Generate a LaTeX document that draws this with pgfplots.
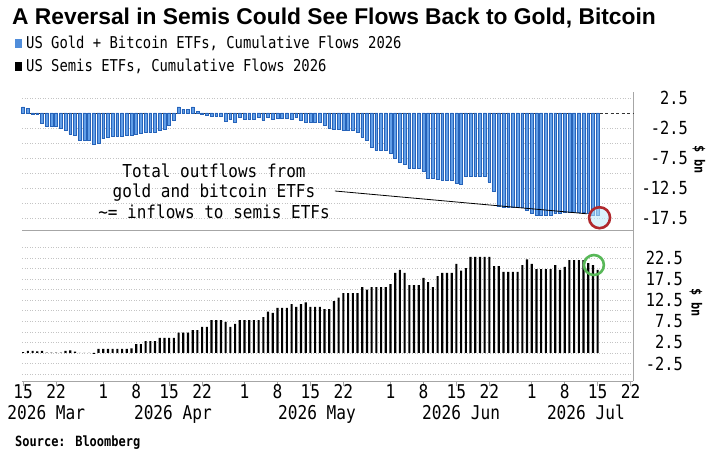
\documentclass[border=0pt]{standalone}
\usepackage{pgfplots}
\pgfplotsset{compat=1.18}
\usepackage{pgfplotstable}
\usepackage{fontspec}
\setmainfont{DejaVu Sans Mono}
\newfontfamily\bbmono[FakeStretch=0.85]{DejaVu Sans Mono}
\newfontfamily\annf[FakeStretch=0.9]{DejaVu Sans Mono}
\newfontfamily\titlef{Liberation Sans}
\definecolor{gbfill}{HTML}{629FE8}
\definecolor{gbedge}{HTML}{2663B9}
\definecolor{gridc}{HTML}{C4C4C4}
\definecolor{axc}{HTML}{A6A6A6}
\definecolor{ringred}{HTML}{B0282D}
\definecolor{ringgreen}{HTML}{58B858}
\newcommand\ticky{\bbmono\fontsize{18}{20}\selectfont}
\newcommand\tickx{\bbmono\fontsize{19}{21}\selectfont}

% US Gold + Bitcoin ETFs, cumulative flows ($ bn), day 0 = 15 Mar 2026
\pgfplotstableread{
d v
0 1.0
1 0.7
2 -0.2
3 -0.3
4 -1.8
5 -2.3
6 -2.3
7 -2.3
8 -2.6
9 -2.9
10 -3.5
11 -3.8
12 -4.5
13 -4.5
14 -4.5
15 -5.2
16 -5.0
17 -4.3
18 -4.1
19 -3.9
20 -3.9
21 -3.9
22 -3.7
23 -3.8
24 -3.5
25 -3.4
26 -3.3
27 -3.3
28 -3.3
29 -2.9
30 -2.7
31 -2.0
32 -1.2
33 1.0
34 0.6
35 0.6
36 1.0
37 0.3
38 -0.3
39 -0.4
40 -0.5
41 -0.5
42 -0.5
43 -1.4
44 -1.0
45 -1.6
46 -0.8
47 -1.1
48 -1.1
49 -1.1
50 -0.7
51 -1.2
52 -0.8
53 -1.0
54 -0.9
55 -0.9
56 -0.9
57 -1.0
58 -0.8
59 -1.3
60 -1.5
61 -1.5
62 -1.5
63 -1.5
64 -2.0
65 -2.6
66 -2.8
67 -2.8
68 -2.9
69 -2.9
70 -2.9
71 -3.3
72 -4.0
73 -4.5
74 -5.8
75 -6.2
76 -6.2
77 -6.2
78 -6.8
79 -7.6
80 -8.2
81 -8.6
82 -9.2
83 -9.2
84 -9.2
85 -9.8
86 -10.9
87 -10.9
88 -11.0
89 -11.2
90 -11.2
91 -11.2
92 -11.8
93 -11.9
94 -10.6
95 -10.6
96 -10.6
97 -10.6
98 -10.6
99 -11.5
100 -13.0
101 -15.5
102 -15.8
103 -15.8
104 -15.8
105 -15.8
106 -15.8
107 -16.3
108 -16.7
109 -17.0
110 -17.0
111 -17.0
112 -17.0
113 -16.8
114 -16.7
115 -16.6
116 -16.6
117 -16.6
118 -16.6
119 -16.6
120 -16.8
121 -17.0
122 -17.0
}\goldtab

% US Semis ETFs, cumulative flows ($ bn)
\pgfplotstableread{
d v
0 0.2
1 0.5
2 0.5
3 0.4
4 0.5
5 0.1
6 0.1
7 0.1
8 0.1
9 0.5
10 0.6
11 0.3
12 0.05
13 0.05
14 0.05
15 -0.2
16 1.0
17 1.0
18 1.0
19 1.0
20 1.0
21 1.0
22 1.0
23 1.1
24 2.1
25 2.1
26 2.8
27 2.8
28 2.8
29 3.6
30 3.6
31 3.6
32 3.6
33 4.8
34 4.8
35 4.8
36 5.4
37 5.4
38 6.2
39 6.2
40 7.8
41 7.8
42 7.8
43 7.4
44 6.2
45 6.9
46 7.8
47 7.8
48 7.8
49 7.8
50 7.8
51 8.5
52 9.8
53 9.5
54 10.7
55 10.7
56 10.7
57 11.6
58 10.9
59 11.6
60 12.0
61 10.9
62 10.9
63 10.9
64 10.4
65 10.4
66 12.3
67 13.1
68 14.2
69 14.2
70 14.2
71 14.2
72 15.6
73 15.0
74 15.6
75 15.6
76 15.6
77 15.6
78 16.3
79 19.0
80 19.7
81 19.0
82 16.1
83 16.1
84 16.1
85 17.8
86 16.8
87 15.6
88 18.2
89 19.0
90 19.0
91 19.0
92 21.1
93 19.5
94 20.1
95 22.8
96 22.8
97 22.8
98 22.8
99 22.8
100 20.6
101 20.6
102 19.2
103 19.2
104 19.2
105 19.2
106 20.8
107 22.2
108 21.1
109 19.9
110 19.9
111 19.9
112 19.9
113 20.8
114 19.7
115 20.4
116 22.0
117 22.0
118 22.0
119 22.0
120 21.3
121 20.8
122 19.7
}\semitab

\pgfplotsset{
  bbg/.style={
    scale only axis, width=611pt, xmin=-0.25, xmax=129.5,
    axis x line*=bottom, axis y line*=right,
    axis line style={draw=axc, line width=0.8pt},
    xtick={0,7,17,24,31,38,47,54,61,68,78,85,92,99,108,115,122,129},
    ymajorgrids, yminorgrids,
    major grid style={draw=gridc, dash pattern=on 1pt off 1.6pt, line width=0.7pt},
    minor grid style={draw=gridc, dash pattern=on 1pt off 1.6pt, line width=0.7pt},
    major y tick style={draw=none}, minor y tick style={draw=none},
    /pgf/number format/assume math mode=true,
    /pgf/number format/fixed, /pgf/number format/fixed zerofill,
    /pgf/number format/precision=1,
    clip=false,
  }
}

\begin{document}
\begin{tikzpicture}
\path[use as bounding box, fill=white] (0,0) rectangle (718pt,460pt);

% title, legend, source
\node[anchor=base west, inner sep=0pt] at (12pt,435pt)
  {\titlef\bfseries\fontsize{22.8}{24}\selectfont A Reversal in Semis Could See Flows Back to Gold, Bitcoin};
\fill[gbfill!70!gbedge] (15pt,412pt) rectangle (22pt,421pt);
\node[anchor=base west, inner sep=0pt] at (26pt,411pt)
  {\bbmono\fontsize{16.3}{18}\selectfont US Gold + Bitcoin ETFs, Cumulative Flows 2026};
\fill[black] (15pt,389pt) rectangle (22pt,398pt);
\node[anchor=base west, inner sep=0pt] at (26pt,388pt)
  {\bbmono\fontsize{16.3}{18}\selectfont US Semis ETFs, Cumulative Flows 2026};
\node[anchor=base west, inner sep=0pt] at (15pt,13pt)
  {\bbmono\bfseries\fontsize{14.1}{16}\selectfont Source: Bloomberg};

% top panel
\begin{axis}[bbg,
  at={(22pt,230pt)}, anchor=south west, height=138pt,
  ymin=-19.5, ymax=3.5,
  ytick={-17.5,-12.5,-7.5,-2.5,2.5},
  minor ytick={-15,-10,-5},
  extra y ticks={0}, extra y tick labels={},
  extra y tick style={grid=major, major grid style={draw=black!80, dash pattern=on 3pt off 2.5pt, line width=0.8pt}},
  xmajorticks=false,
  yticklabel style={font=\ticky, anchor=east, inner sep=0pt, xshift=55pt},
]
\addplot[ybar, bar width=0.6, fill=gbfill, draw=gbedge, line width=0.6pt] table[x=d, y=v] {\goldtab};
\draw[black, line width=0.8pt] (axis cs:66.2,-13.0) -- (axis cs:119.7,-16.8);
\draw[ringred, line width=2.6pt, fill=cyan!25, fill opacity=0.55] (axis cs:122.4,-17.45) circle[radius=10.5pt];
\node[xshift=66pt, rotate=-90, inner sep=0pt] at (axis description cs:1,0.51)
  {\bbmono\bfseries\fontsize{14}{16}\selectfont \$ bn};
\end{axis}

% annotation text
\node[anchor=base, inner sep=0pt] at (214pt,282pt) {\annf\fontsize{17.8}{20}\selectfont Total outflows from};
\node[anchor=base, inner sep=0pt] at (214pt,262pt) {\annf\fontsize{17.8}{20}\selectfont gold and bitcoin ETFs};
\node[anchor=base, inner sep=0pt] at (214pt,241pt) {\annf\fontsize{17.8}{20}\selectfont \textasciitilde= inflows to semis ETFs};

% bottom panel
\begin{axis}[bbg,
  at={(22pt,79pt)}, anchor=south west, height=151pt,
  ymin=-6.64, ymax=29.15,
  ytick={-2.5,2.5,7.5,12.5,17.5,22.5},
  minor ytick={-5,0,5,10,15,20,25},
  xticklabels={15,22,1,8,15,22,1,8,15,22,1,8,15,22,1,8,15,22},
  tick align=outside, major tick length=5pt,
  major x tick style={draw=axc, line width=0.8pt},
  xticklabel style={font=\tickx, anchor=base, yshift=-12.5pt},
  yticklabel style={font=\ticky, anchor=east, inner sep=0pt, xshift=45pt},
]
\addplot[ybar, bar width=0.45, fill=black, draw=none] table[x=d, y=v] {\semitab};
\draw[ringgreen, line width=2.6pt] (axis cs:121.2,20.85) circle[radius=10pt];
\node[xshift=63pt, rotate=-90, inner sep=0pt] at (axis description cs:1,0.52)
  {\bbmono\bfseries\fontsize{14}{16}\selectfont \$ bn};
\foreach \mx/\ml in {4.9/Mar, 31.8/Apr, 62.4/May, 93.0/Jun, 119.5/Jul}{
  \edef\tmp{\noexpand\node[anchor=base, inner sep=0pt, yshift=-38.5pt] at (axis cs:\mx,-6.64) {\noexpand\tickx 2026 \ml};}
  \tmp
}
\end{axis}
\end{tikzpicture}
\end{document}
